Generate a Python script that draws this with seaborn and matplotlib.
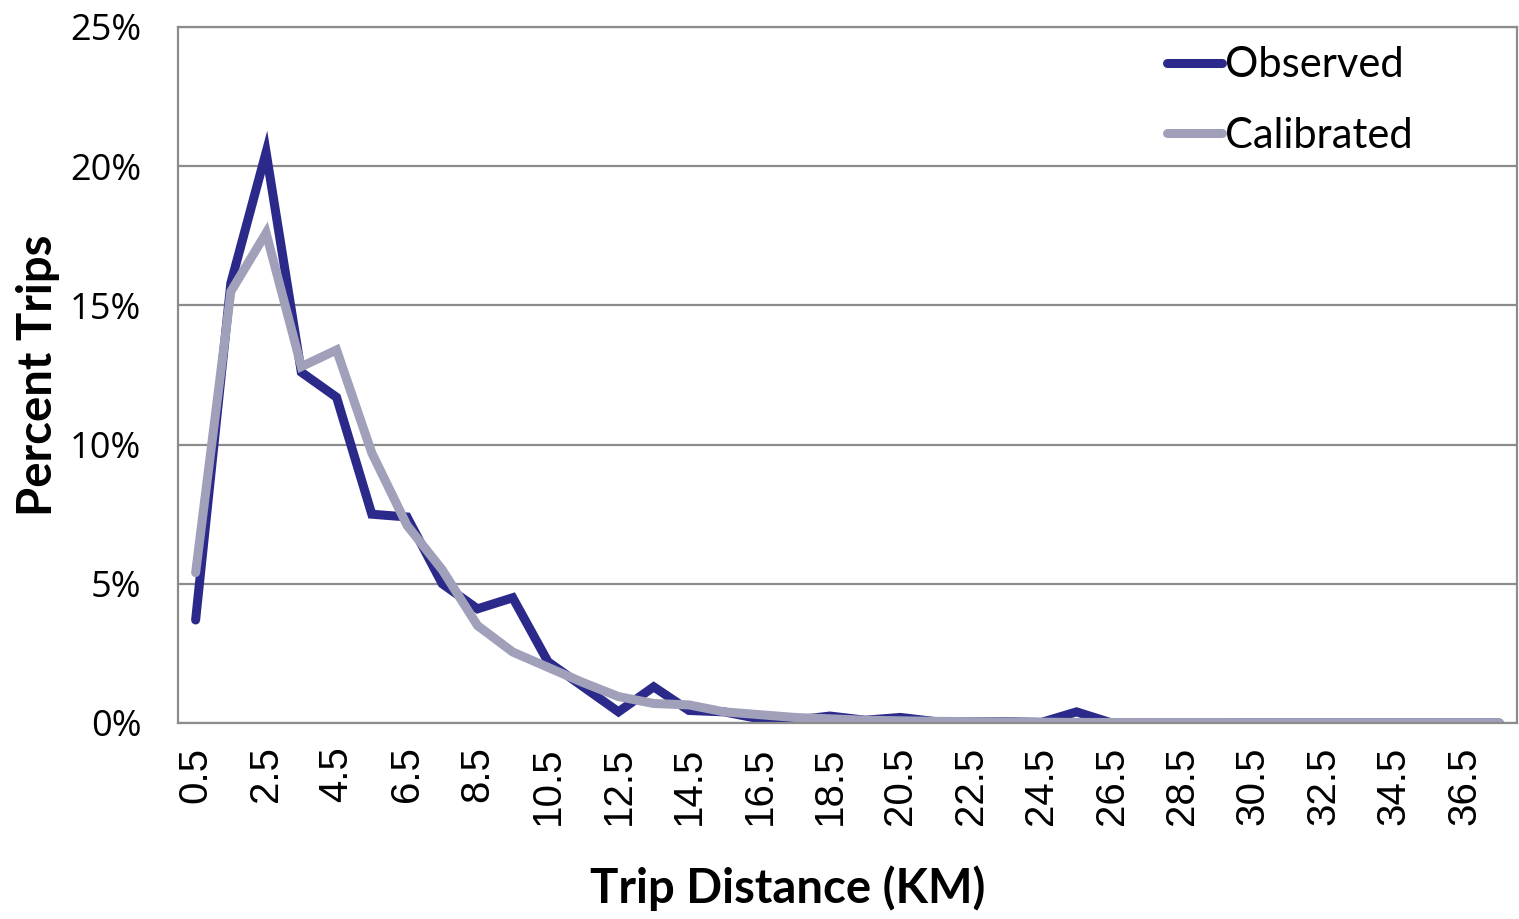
import numpy as np
import pandas as pd
import matplotlib
matplotlib.use("Agg")
import matplotlib.pyplot as plt
import seaborn as sns

# Trip distance bins (km, bin midpoints)
distance_km = [0.5 + i for i in range(38)]

# Share of trips per distance bin (%)
observed = [3.7, 15.8, 20.5, 12.6, 11.7, 7.5, 7.4, 5.0, 4.1, 4.5,
            2.2, 1.3, 0.4, 1.3, 0.45, 0.4, 0.15, 0.1, 0.25, 0.1,
            0.2, 0.05, 0.05, 0.05, 0.02, 0.4, 0.0, 0.0, 0.0, 0.0,
            0.0, 0.0, 0.0, 0.0, 0.0, 0.0, 0.0, 0.0]
calibrated = [5.4, 15.5, 17.6, 12.8, 13.4, 9.7, 7.1, 5.5, 3.5, 2.55,
              2.0, 1.45, 0.95, 0.7, 0.65, 0.4, 0.3, 0.2, 0.15, 0.1,
              0.08, 0.06, 0.05, 0.04, 0.03, 0.02, 0.02, 0.01, 0.01, 0.01,
              0.0, 0.0, 0.0, 0.0, 0.0, 0.0, 0.0, 0.0]

series_names = ["Observed", "Calibrated"]
series_colors = ["#2B2A8A", "#A0A0BA"]
y_ticks = [0, 5, 10, 15, 20, 25]

df = pd.DataFrame({
    "distance": distance_km * 2,
    "pct": observed + calibrated,
    "series": [series_names[0]] * len(distance_km) + [series_names[1]] * len(distance_km),
})

sns.set_style("white", rc={"text.color": "black", "axes.labelcolor": "black",
                           "xtick.color": "black", "ytick.color": "black"})
plt.rcParams["font.family"] = ["Lato", "DejaVu Sans"]

GRID = "#8C8C8C"

fig = plt.figure(figsize=(15.19, 9.19), dpi=100)
ax = fig.add_axes([178 / 1519, 1 - 723 / 919, (1517 - 178) / 1519, (723 - 27) / 919])

sns.lineplot(data=df, x="distance", y="pct", hue="series",
             palette=dict(zip(series_names, series_colors)),
             linewidth=6.5, ax=ax, legend=True, sort=False,
             solid_capstyle="round", solid_joinstyle="miter")

ax.set_xlim(0, 38)
ax.set_ylim(0, 25)
ax.set_yticks(y_ticks)
ax.set_yticklabels([f"{v}%" for v in y_ticks], fontsize=26,
                   family=["Open Sans", "DejaVu Sans"])
xt = distance_km[::2]
ax.set_xticks(xt)
ax.set_xticklabels([f"{v:g}" for v in xt], rotation=90, fontsize=29,
                   family=["Liberation Sans", "DejaVu Sans"])
ax.tick_params(axis="x", length=0, pad=17)
ax.tick_params(axis="y", length=8.5, width=1.6, color=GRID, direction="out", pad=18)

ax.grid(axis="y", color=GRID, linewidth=1.6)
ax.set_axisbelow(True)
for s in ax.spines.values():
    s.set_color(GRID)
    s.set_linewidth(1.6)

ax.set_xlabel("Trip Distance (KM)", fontsize=34, fontweight="bold")
ax.xaxis.set_label_coords(0.455, -0.205)
ax.set_ylabel("Percent Trips", fontsize=34, fontweight="bold")
ax.yaxis.set_label_coords(-0.088, 0.5)

leg = ax.legend(loc="upper left", bbox_to_anchor=(0.7265, 0.996), frameon=False,
                fontsize=30, handlelength=1.3, handletextpad=0.08,
                labelspacing=0.77, borderaxespad=0.0)
for line in leg.get_lines():
    line.set_linewidth(6.5)
    line.set_solid_capstyle("round")

fig.savefig("out.png", dpi=100)
